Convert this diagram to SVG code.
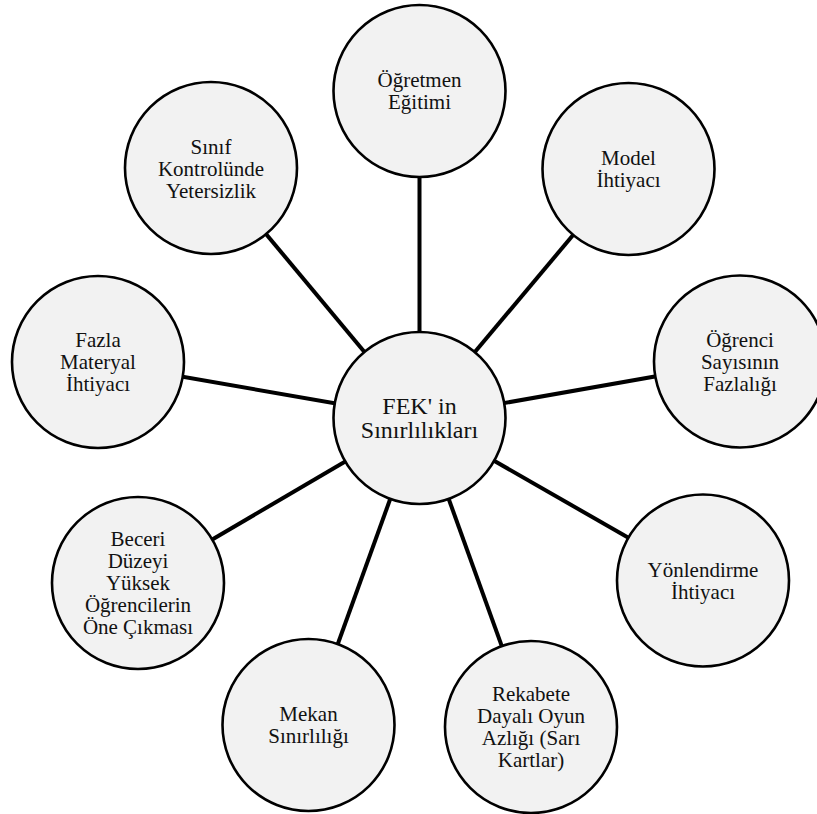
<svg xmlns="http://www.w3.org/2000/svg" width="817" height="814" viewBox="0 0 817 814">
  <style>
    .node circle { fill: #f2f2f2; stroke: #000; stroke-width: 2.6; }
    .node text { font-family: "Liberation Serif", "Times New Roman", serif; font-size: 21px; fill: #111; text-anchor: middle; }
    #hub text { font-size: 24px; }
    .links line { stroke: #000; stroke-width: 4; }
  </style>
  <rect width="817" height="814" fill="#fff"/>

  <!-- spokes from the hub to each outer node -->
  <g class="links" id="links">
    <line x1="419.5" y1="418" x2="419.5" y2="91"/>
    <line x1="419.5" y1="418" x2="628.5" y2="169"/>
    <line x1="419.5" y1="418" x2="740" y2="361.5"/>
    <line x1="419.5" y1="418" x2="703" y2="580.5"/>
    <line x1="419.5" y1="418" x2="531" y2="727"/>
    <line x1="419.5" y1="418" x2="308.5" y2="725"/>
    <line x1="419.5" y1="418" x2="138" y2="583"/>
    <line x1="419.5" y1="418" x2="98" y2="362"/>
    <line x1="419.5" y1="418" x2="211" y2="168"/>
  </g>

  <g class="node" id="hub">
    <circle cx="419.5" cy="418" r="86"/>
    <text x="419.5" y="414">FEK' in</text>
    <text x="419.5" y="438">Sınırlılıkları</text>
  </g>

  <g class="node" id="ogretmen-egitimi">
    <circle cx="419.5" cy="91" r="86"/>
    <text x="419.5" y="87">Öğretmen</text>
    <text x="419.5" y="109">Eğitimi</text>
  </g>

  <g class="node" id="model-ihtiyaci">
    <circle cx="628.5" cy="169" r="86"/>
    <text x="628.5" y="165">Model</text>
    <text x="628.5" y="187">İhtiyacı</text>
  </g>

  <g class="node" id="ogrenci-sayisi">
    <circle cx="740" cy="361.5" r="86"/>
    <text x="740" y="346.5">Öğrenci</text>
    <text x="740" y="368.5">Sayısının</text>
    <text x="740" y="390.5">Fazlalığı</text>
  </g>

  <g class="node" id="yonlendirme-ihtiyaci">
    <circle cx="703" cy="580.5" r="86"/>
    <text x="703" y="576.5">Yönlendirme</text>
    <text x="703" y="598.5">İhtiyacı</text>
  </g>

  <g class="node" id="rekabete-dayali-oyun">
    <circle cx="531" cy="727" r="86"/>
    <text x="531" y="701">Rekabete</text>
    <text x="531" y="723">Dayalı Oyun</text>
    <text x="531" y="745">Azlığı (Sarı</text>
    <text x="531" y="767">Kartlar)</text>
  </g>

  <g class="node" id="mekan-sinirliligi">
    <circle cx="308.5" cy="725" r="86"/>
    <text x="308.5" y="721">Mekan</text>
    <text x="308.5" y="743">Sınırlılığı</text>
  </g>

  <g class="node" id="beceri-duzeyi">
    <circle cx="138" cy="583" r="86"/>
    <text x="138" y="546">Beceri</text>
    <text x="138" y="568">Düzeyi</text>
    <text x="138" y="590">Yüksek</text>
    <text x="138" y="612">Öğrencilerin</text>
    <text x="138" y="634">Öne Çıkması</text>
  </g>

  <g class="node" id="fazla-materyal">
    <circle cx="98" cy="362" r="86"/>
    <text x="98" y="347">Fazla</text>
    <text x="98" y="369">Materyal</text>
    <text x="98" y="391">İhtiyacı</text>
  </g>

  <g class="node" id="sinif-kontrolu">
    <circle cx="211" cy="168" r="86"/>
    <text x="211" y="154">Sınıf</text>
    <text x="211" y="176">Kontrolünde</text>
    <text x="211" y="198">Yetersizlik</text>
  </g>
</svg>
